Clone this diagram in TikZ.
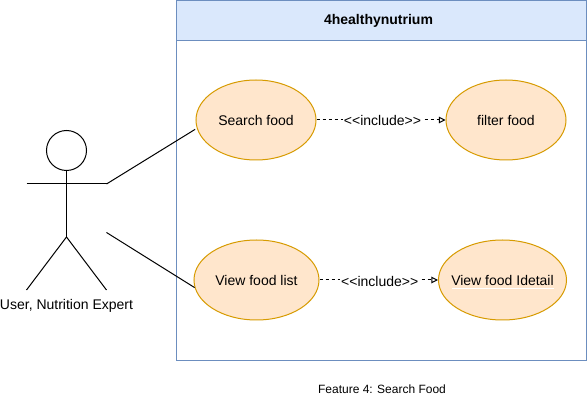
\documentclass[tikz,border=0pt]{standalone}
\usepackage{fontspec}
\setmainfont{Liberation Sans}
\usetikzlibrary{shapes.geometric,arrows.meta}
\definecolor{ucfill}{HTML}{FFE6CC}
\definecolor{ucline}{HTML}{D79B00}
\definecolor{sysfill}{HTML}{DAE8FC}
\definecolor{sysline}{HTML}{6C8EBF}
\tikzset{
  every node/.style={font=\fontsize{10.5}{12.5}\selectfont, text=black, inner sep=0pt},
  usecase/.style={ellipse, draw=ucline, fill=ucfill, line width=0.75pt, minimum height=60pt},
  sysbox/.style={draw=sysline, line width=0.75pt, outer sep=0pt},
  stick/.style={draw=black, line width=0.75pt},
  assoc/.style={draw=black, line width=0.75pt},
  incl/.style={draw=black, line width=0.75pt, dash pattern=on 2.25pt off 2.25pt, -{Triangle[open,length=5pt,width=5pt]}},
  incllabel/.style={fill=white, inner xsep=1pt, inner ysep=1pt}
}
\begin{document}
\begin{tikzpicture}[x=0.75pt,y=-0.75pt]
\useasboundingbox (0,0) rectangle (587,406);
\fill[white] (0,0) rectangle (587,406);
% system box
\node[sysbox, fill=white, anchor=north west, minimum width=410*0.75pt, minimum height=360*0.75pt] (sys) at (176.5,0.5) {};
\node[sysbox, fill=sysfill, anchor=north west, minimum width=410*0.75pt, minimum height=40*0.75pt, font=\fontsize{10.5}{12.5}\selectfont\bfseries] (title) at (176.5,0.5) {};
\node[font=\fontsize{10.5}{12.5}\selectfont\bfseries] (titletext) at (378.5,21) {4healthynutrium};
% use cases
\node[usecase, minimum width=90pt, label={center:Search food}] (search) at (256,120) {};
\node[usecase, minimum width=90pt, label={center:filter food}] (filter) at (506,120) {};
\node[usecase, minimum width=93.75pt, label={center:View food list}] (list) at (256.5,280) {};
\node[usecase, minimum width=96pt, label={center:View food Idetail}] (detail) at (502.5,280) {};
\draw[white, line width=0.6pt] (452.3,288.5) -- (554,288.5);
% actor
\node[circle, stick, minimum size=30pt] (head) at (66.5,150.5) {};
\coordinate (neck) at (66.5,237);
\coordinate (armL) at (26.5,184);
\coordinate (armR) at (106.5,184);
\coordinate (legL) at (26.5,290);
\coordinate (legR) at (106.5,290);
\coordinate (hip) at (106.5,232.5);
\draw[stick] (head.south) -- (neck);
\draw[stick] (armL) -- (armR);
\draw[stick] (legL) -- (neck) -- (legR);
\node (actor) at (66.5,306) {User, Nutrition Expert};
% connectors
\draw[assoc, shorten >=1.5pt] (armR) -- (search.188);
\draw[assoc] (hip) -- (list.187);
\draw[incl] (search.east) -- (filter.west);
\draw[incl] (list.east) -- (detail.west);
\node[incllabel] (inc1) at (382.5,120.5) {<{}<include>{}>};
\node[incllabel] (inc2) at (379.7,281) {<{}<include>{}>};
% caption
\node (cap) at (382,389.5) {\fontsize{9}{11}\selectfont Feature 4: Search Food};
\end{tikzpicture}
\end{document}
